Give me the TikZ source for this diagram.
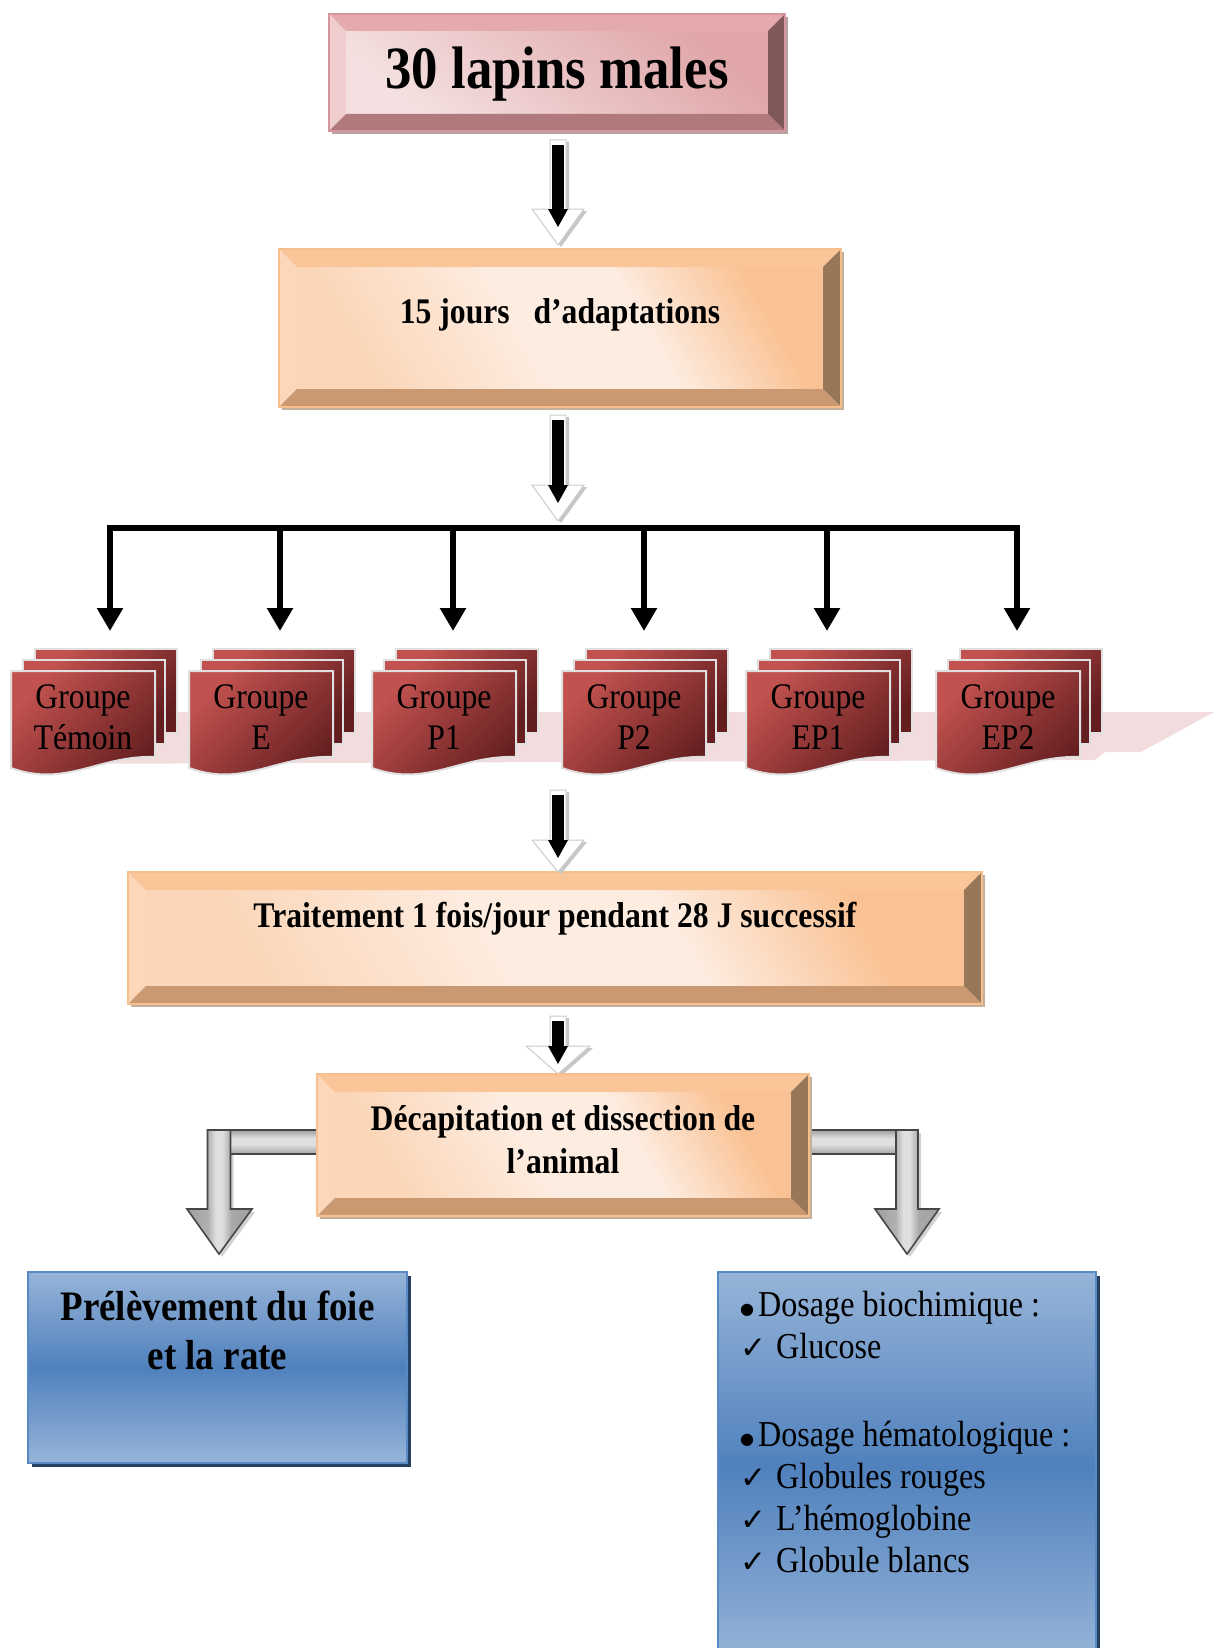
\documentclass[tikz,border=0pt]{standalone}
\usepackage{fontspec}
\setmainfont{Liberation Serif}[FakeStretch=0.88]
\newfontfamily\symf{DejaVu Sans}
\usetikzlibrary{calc,arrows.meta}
\definecolor{pkFL}{RGB}{244,224,224}
\definecolor{pkFD}{RGB}{224,166,168}
\definecolor{pkTop}{RGB}{228,170,172}
\definecolor{pkLeft}{RGB}{240,206,207}
\definecolor{pkRight}{RGB}{128,88,90}
\definecolor{pkBot}{RGB}{176,121,123}
\definecolor{pkLine}{RGB}{214,150,155}
\definecolor{pkShd}{RGB}{185,160,160}
\definecolor{orFL}{RGB}{253,236,224}
\definecolor{orFM}{RGB}{251,214,184}
\definecolor{orFD}{RGB}{250,194,148}
\definecolor{orTop}{RGB}{250,197,152}
\definecolor{orLeft}{RGB}{252,215,185}
\definecolor{orRight}{RGB}{152,118,88}
\definecolor{orBot}{RGB}{202,153,114}
\definecolor{orLine}{RGB}{247,190,142}
\definecolor{orShd}{RGB}{195,175,155}
\definecolor{bluL}{RGB}{150,180,216}
\definecolor{bluD}{RGB}{80,129,189}
\definecolor{bluLine}{RGB}{90,138,196}
\definecolor{bluShd}{RGB}{37,64,97}
\definecolor{docL}{RGB}{194,82,79}
\definecolor{docD}{RGB}{100,30,32}
\definecolor{band}{RGB}{242,220,221}
\pgfdeclarehorizontalshading{peach}{100bp}{color(0bp)=(orFM); color(25bp)=(orFM); color(45bp)=(orFL); color(60bp)=(orFL); color(75bp)=(orFD); color(100bp)=(orFD)}
\pgfdeclarehorizontalshading{cylh}{100bp}{color(0bp)=(gray!75); color(25bp)=(gray!75); color(41bp)=(gray!62); color(47bp)=(gray!25); color(52bp)=(gray!25); color(59bp)=(gray!68); color(75bp)=(gray!75); color(100bp)=(gray!75)}
\pgfdeclareverticalshading{cylv}{100bp}{color(0bp)=(gray!72); color(25bp)=(gray!72); color(45bp)=(gray!25); color(58bp)=(gray!25); color(75bp)=(gray!75); color(100bp)=(gray!75)}

\newcommand\bevelbox[3]{%
 \fill[#3 sh] ($(#1.north west)+(3,3)$) rectangle ($(#1.south east)+(3,3)$);
 \shade[#3 face] ($(#1.north west)+(#2,#2)$) rectangle ($(#1.south east)+(-#2,-#2)$);
 \fill[#3 top] (#1.north west) -- (#1.north east) -- ($(#1.north east)+(-#2,#2)$) -- ($(#1.north west)+(#2,#2)$) -- cycle;
 \fill[#3 left] (#1.north west) -- ($(#1.north west)+(#2,#2)$) -- ($(#1.south west)+(#2,-#2)$) -- (#1.south west) -- cycle;
 \fill[#3 right] (#1.north east) -- (#1.south east) -- ($(#1.south east)+(-#2,-#2)$) -- ($(#1.north east)+(-#2,#2)$) -- cycle;
 \fill[#3 bot] (#1.south west) -- (#1.south east) -- ($(#1.south east)+(-#2,-#2)$) -- ($(#1.south west)+(#2,-#2)$) -- cycle;
 \draw[#3 line, line width=1.2pt] (#1.north west) rectangle (#1.south east);
}
\newcommand\hollowarr[4]{%
 \fill[gray!45] ($(#1)+(-8+3,2)$) -- ($(#1)+(8+3,2)$) -- ($(#2)+(8+3,-#4+2)$) -- ($(#2)+(#3+3,-#4+2)$) -- ($(#2)+(3,2)$) -- ($(#2)+(-#3+3,-#4+2)$) -- ($(#2)+(-8+3,-#4+2)$) -- cycle;
 \draw[gray!40,fill=white,line width=1pt] ($(#1)+(-8,0)$) -- ($(#1)+(8,0)$) -- ($(#2)+(8,-#4)$) -- ($(#2)+(#3,-#4)$) -- (#2) -- ($(#2)+(-#3,-#4)$) -- ($(#2)+(-8,-#4)$) -- cycle;
 \fill[black] ($(#1)+(-6,5)$) rectangle ($(#2)+(6,-#4+1)$);
 \fill[black] ($(#2)+(-10,-#4)$) -- ($(#2)+(10,-#4)$) -- ($(#2)+(0,-#4+18)$) -- cycle;
}
\newcommand\grp[3]{%
 \begin{scope}[shift={(#2,671)}]
  \shade[docsh] (24,-22) rectangle (166,62);
  \shade[docsh] (12,-11) rectangle (154,73);
  \shade[docsh] (0,0) -- (144,0) -- (144,86) .. controls (88,84) and (55,117) .. (0,97) -- cycle;
  \node[grptext] (#1) at (72,46) {Groupe\\#3};
 \end{scope}}
\newcommand\chkm{\makebox[36pt][l]{\symf\fontsize{31}{31}\selectfont ✓}}
\newcommand\bul{\makebox[18pt][l]{\raisebox{2pt}{\symf\fontsize{16}{16}\selectfont ●}}}

\begin{document}
\begin{tikzpicture}[x=1pt,y=-1pt,
  geom/.style={inner sep=0pt,outer sep=0pt,draw=none},
  pk sh/.style={fill=pkShd}, pk face/.style={top color=pkFD,bottom color=pkFL,shading angle=-40},
  pk top/.style={fill=pkTop}, pk left/.style={fill=pkLeft}, pk right/.style={fill=pkRight},
  pk bot/.style={fill=pkBot}, pk line/.style={draw=pkLine},
  or sh/.style={fill=orShd}, or face/.style={shading=peach,shading angle=30},
  or top/.style={fill=orTop}, or left/.style={fill=orLeft}, or right/.style={fill=orRight},
  or bot/.style={fill=orBot}, or line/.style={draw=orLine},
  docsh/.style={draw=white!88!black,line width=2pt,top color=docL,bottom color=docD,shading angle=45},
  grptext/.style={align=center,font=\fontsize{36}{41}\selectfont,text=black,inner sep=0pt},
  blk/.style={line width=5.5pt,black},
  blkarr/.style={blk,-{Triangle[width=25pt,length=23pt]}},
  elbowv/.style={shading=cylh,draw=gray!55!black,line width=1.6pt},
  elbowh/.style={shading=cylv,draw=gray!55!black,line width=1.6pt},
  elbowsh/.style={fill=gray!35},
  bluebox/.style={top color=bluL,bottom color=bluL,middle color=bluD,draw=bluLine,line width=2pt},
  rtxt/.style={anchor=base west,inner sep=0pt,font=\fontsize{36.5}{42}\selectfont}]
\useasboundingbox (0,0) rectangle (1217,1648);
\clip (0,0) rectangle (1217,1648);

% geometry nodes
\node[geom,minimum width=456,minimum height=117] (top) at (557,72.5) {};
\node[geom,minimum width=562,minimum height=158] (b2) at (560,328) {};
\node[geom,minimum width=854,minimum height=132] (b3) at (555,938) {};
\node[geom,minimum width=492,minimum height=142] (b4) at (563,1145) {};
\node[geom,minimum width=379,minimum height=191] (blueL) at (217.5,1367.5) {};
\node[geom,minimum width=378,minimum height=390] (blueR) at (907,1467) {};

% bevel boxes
\bevelbox{top}{17}{pk}
\bevelbox{b2}{18}{or}
\bevelbox{b3}{18}{or}

\node[font={\fontsize{60}{66}\selectfont\bfseries}] (topT) at ($(top.center)+(0,2)$) {30 lapins males};
\node[font={\fontsize{36}{40}\selectfont\bfseries}] (b2T) at ($(b2.center)+(0,-13)$) {15 jours~~~d’adaptations};
\node[font={\fontsize{36}{40}\selectfont\bfseries}] (b3T) at ($(b3.center)+(0,-19)$) {Traitement 1 fois/jour pendant 28 J successif};

% hollow arrows 1,2
\coordinate (a1s) at ($(top.south)+(1,9)$);
\coordinate (a1e) at ($(b2.north)+(-2,-4)$);
\hollowarr{a1s}{a1e}{26}{36}
\coordinate (a2s) at ($(b2.south)+(-2,8)$);
\coordinate (jn) at (558,528);
\coordinate (a2e) at ($(jn)+(0,-7)$);
\hollowarr{a2s}{a2e}{26}{36}

% distribution line
\coordinate (jL) at (110,528);
\coordinate (jR) at (1017,528);
\draw[blk,line cap=rect] (jL) -- (jR);

% pink band
\fill[band] (40,712) -- (1214,712) -- (1141,752) -- (1105,752) -- (1095,760) -- (40,764) -- cycle;

% groups
\grp{g1}{11}{Témoin}
\grp{g2}{189}{E}
\grp{g3}{372}{P1}
\grp{g4}{562}{P2}
\grp{g5}{746}{EP1}
\grp{g6}{936}{EP2}

\foreach \n/\x in {1/110,2/280,3/453,4/644,5/827,6/1017}{
  \coordinate (d\n) at (\x,528);
  \coordinate (t\n) at (\x,631);
  \draw[blkarr] (d\n) -- (t\n);
}

% hollow arrows 3,4
\coordinate (a3s) at ($(b3.north)+(3,-82)$);
\coordinate (a3e) at ($(b3.north)+(3,0)$);
\hollowarr{a3s}{a3e}{26}{32}
\coordinate (a4s) at ($(b3.south)+(3,12)$);
\coordinate (a4e) at ($(b4.north)+(-5,0)$);
\hollowarr{a4s}{a4e}{32}{28}

% elbow arrows
\coordinate (eL) at (b4.west);
\coordinate (eR) at (b4.east);
\coordinate (lbTip) at ($(blueL.north)+(1.5,-18)$);
\coordinate (rbTip) at ($(blueR.north)+(0,-18)$);
% left
\fill[elbowsh] ($(lbTip |- eL)+(-11.5+3,-15+3)$) -- ($(lbTip)+(-11.5+3,-45+3)$) -- ($(lbTip)+(-32+3,-45+3)$) -- ($(lbTip)+(3,3)$) -- ($(lbTip)+(33+3,-45+3)$) -- ($(lbTip)+(11.5+3,-45+3)$) -- ($(lbTip |- eL)+(11.5+3,-15+3)$) -- cycle;
\shade[elbowh] ($(lbTip |- eL)+(11.5,-15)$) rectangle ($(eL)+(0,9)$);
\shade[elbowv] ($(lbTip |- eL)+(-11.5,-15)$) -- ($(lbTip)+(-11.5,-45)$) -- ($(lbTip)+(-32,-45)$) -- (lbTip) -- ($(lbTip)+(33,-45)$) -- ($(lbTip)+(11.5,-45)$) -- ($(lbTip |- eL)+(11.5,-15)$) -- cycle;
% right
\fill[elbowsh] ($(rbTip |- eR)+(-11+3,-15+3)$) -- ($(rbTip)+(-11+3,-45+3)$) -- ($(rbTip)+(-32+3,-45+3)$) -- ($(rbTip)+(3,3)$) -- ($(rbTip)+(32+3,-45+3)$) -- ($(rbTip)+(11+3,-45+3)$) -- ($(rbTip |- eR)+(11+3,-15+3)$) -- cycle;
\shade[elbowh] ($(eR)+(0,-15)$) rectangle ($(rbTip |- eR)+(-11,9)$);
\shade[elbowv] ($(rbTip |- eR)+(-11,-15)$) -- ($(rbTip)+(-11,-45)$) -- ($(rbTip)+(-32,-45)$) -- (rbTip) -- ($(rbTip)+(32,-45)$) -- ($(rbTip)+(11,-45)$) -- ($(rbTip |- eR)+(11,-15)$) -- cycle;

\bevelbox{b4}{18}{or}
\node[align=center,font={\fontsize{36}{43}\selectfont\bfseries}] (b4T) at ($(b4.center)+(0,-5)$) {Décapitation et dissection de\\l’animal};

% blue boxes
\fill[bluShd] ($(blueL.north west)+(4,4)$) rectangle ($(blueL.south east)+(4,4)$);
\shade[bluebox] (blueL.north west) rectangle (blueL.south east);
\node[align=center,font={\fontsize{42}{49}\selectfont\bfseries}] (lbT) at ($(blueL.north)+(0,58)$) {Prélèvement du foie\\et la rate};

\fill[bluShd] ($(blueR.north west)+(4,4)$) rectangle ($(blueR.south east)+(4,4)$);
\shade[bluebox] (blueR.north west) rectangle (blueR.south east);
\node[rtxt] (r1) at (740,1316) {\bul Dosage biochimique :};
\node[rtxt] (r2) at (740,1358) {\chkm Glucose};
\node[rtxt] (r3) at (740,1446) {\bul Dosage hématologique :};
\node[rtxt] (r4) at (740,1488) {\chkm Globules rouges};
\node[rtxt] (r5) at (740,1530) {\chkm L’hémoglobine};
\node[rtxt] (r6) at (740,1572) {\chkm Globule blancs};
\end{tikzpicture}
\end{document}
